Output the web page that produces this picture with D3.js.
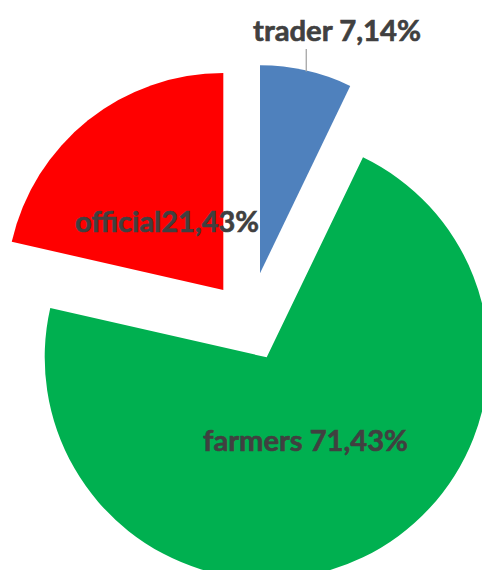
<!DOCTYPE html>
<html>
<head>
<meta charset="utf-8">
<script src="https://cdn.jsdelivr.net/npm/d3@7/dist/d3.min.js"></script>
<style>
  html, body { margin: 0; padding: 0; background: #fff; }
  svg { display: block; }
</style>
</head>
<body>
<div id="chart"></div>
<script>
// ---- data ----
const categories = ["trader", "farmers", "official"];
const values = [7.14, 71.43, 21.43];
const labels = ["trader 7,14%", "farmers 71,43%", "official21,43%"];
const colors = ["#4F81BD", "#00B050", "#FF0000"];

// ---- layout (exploded slices: apex position + radius per slice) ----
const W = 482, H = 570;
const sliceLayout = {
  trader:   { x: 260.0, y: 273.3, r: 208 },
  farmers:  { x: 266.7, y: 357.3, r: 222 },
  official: { x: 223.3, y: 290.0, r: 217 }
};
const labelLayout = {
  trader:   { x: 337,   y: 40.5,  w: 168 },
  farmers:  { x: 305.5, y: 450.5, w: 205 },
  official: { x: 167,   y: 231.5, w: 184 }
};

const svg = d3.select("#chart").append("svg")
  .attr("width", W).attr("height", H);

const pie = d3.pie().sort(null).value(d => d.value).startAngle(0).endAngle(2 * Math.PI);
const data = categories.map((c, i) => ({ name: c, value: values[i], label: labels[i], color: colors[i] }));
const arcs = pie(data);

const g = svg.append("g");
g.selectAll("path.slice")
  .data(arcs)
  .join("path")
  .attr("class", "slice")
  .attr("transform", d => `translate(${sliceLayout[d.data.name].x},${sliceLayout[d.data.name].y})`)
  .attr("d", d => d3.arc().innerRadius(0).outerRadius(sliceLayout[d.data.name].r)(d))
  .attr("fill", d => d.data.color);

// leader line for trader label
const t = arcs[0];
const tl = sliceLayout.trader;
const leadAngle = t.startAngle + (t.endAngle - t.startAngle) * 0.5;
const lx = tl.x + Math.sin(leadAngle) * tl.r;
const ly = tl.y - Math.cos(leadAngle) * tl.r;
svg.append("line")
  .attr("x1", lx).attr("x2", lx)
  .attr("y1", 49).attr("y2", ly + 1)
  .attr("stroke", "#A6A6A6").attr("stroke-width", 1.3);

svg.selectAll("text.lbl")
  .data(arcs)
  .join("text")
  .attr("class", "lbl")
  .attr("x", d => labelLayout[d.data.name].x)
  .attr("y", d => labelLayout[d.data.name].y)
  .attr("text-anchor", "middle")
  .attr("font-family", "Lato, 'Open Sans', sans-serif")
  .attr("font-weight", "bold")
  .attr("font-size", "28px")
  .attr("textLength", d => labelLayout[d.data.name].w)
  .attr("lengthAdjust", "spacingAndGlyphs")
  .attr("fill", "#404040")
  .attr("stroke", "#404040")
  .attr("stroke-width", 0.6)
  .text(d => d.data.label);
</script>
</body>
</html>
